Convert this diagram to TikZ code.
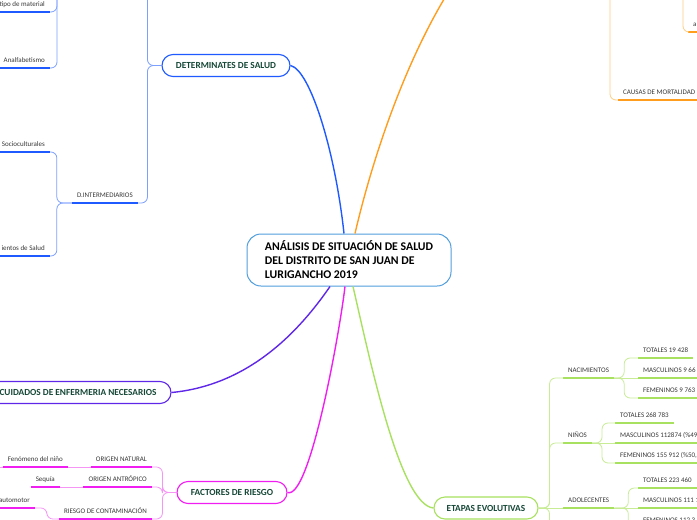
\documentclass[tikz,border=0pt]{standalone}
\usepackage{fontspec}
\setmainfont{Carlito}
\usepackage{tikz}

\definecolor{rootline}{RGB}{80,158,222}
\definecolor{bluebr}{RGB}{30,90,255}
\definecolor{bluelt}{RGB}{125,160,255}
\definecolor{orangebr}{RGB}{255,157,30}
\definecolor{orangelt}{RGB}{255,205,130}
\definecolor{purplebr}{RGB}{95,40,232}
\definecolor{magbr}{RGB}{240,30,240}
\definecolor{maglt}{RGB}{245,150,245}
\definecolor{greenbr}{RGB}{168,225,95}
\definecolor{greenlt}{RGB}{200,236,150}
\definecolor{pilltext}{RGB}{22,72,56}
\definecolor{leaftext}{RGB}{55,55,55}

\begin{document}
\begin{tikzpicture}[x=1pt, y=-1pt,
    rootbox/.style={draw=rootline, fill=white, line width=1pt, rounded corners=14pt,
                    minimum width=204pt, minimum height=52pt, align=left,
                    font=\bfseries\fontsize{11.8}{14}\selectfont},
    pill/.style={draw, fill=white, line width=1.1pt, rounded corners=11pt,
                 minimum height=22pt, text=pilltext,
                 font=\bfseries\fontsize{9.3}{10}\selectfont},
    leaf/.style={inner xsep=5pt, inner ysep=0pt, text height=5pt, text depth=5.5pt,
                 text=leaftext, font=\fontsize{7}{8}\selectfont,
                 append after command={(\tikzlastnode.south west)
                     edge[line width=1.6pt, #1] (\tikzlastnode.south east)}},
    branch/.style={line width=1.4pt},
    twig/.style={line width=0.8pt, rounded corners=6pt},
]

\useasboundingbox (0,0) rectangle (697,520);
\clip (0,0) rectangle (697,520);

\node[rootbox] (root) at (349,260)
    {ANÁLISIS DE SITUACIÓN DE SALUD\\DEL DISTRITO DE SAN JUAN DE\\LURIGANCHO 2019};

\node[pill, draw=bluebr, minimum width=128pt] (dets) at (226,65.5) {DETERMINATES DE SALUD};
\node[pill, draw=purplebr, minimum width=186pt] (cuid) at (78,392.5) {CUIDADOS DE ENFERMERIA NECESARIOS};
\node[pill, draw=magbr, minimum width=110pt] (fact) at (232,492.5) {FACTORES DE RIESGO};
\node[pill, draw=greenbr, minimum width=104pt] (etap) at (486,508) {ETAPAS EVOLUTIVAS};

% off-canvas parents
\coordinate (dest) at (135,-30);
\coordinate (destw) at (71,-25);
\coordinate (ofar) at (470,-40);
\coordinate (causp) at (598,-25);
\coordinate (ap) at (671,-25);
\coordinate (fenc) at (-10,467);
\coordinate (etapd) at (563,560);

\node[leaf=bluebr, anchor=south east] (tipo) at (50,12) {tipo de material};
\node[leaf=bluebr, anchor=south east] (analf) at (50,68) {Analfabetismo};
\node[leaf=bluebr, anchor=south east] (dint) at (138,203) {D.INTERMEDIARIOS};
\node[leaf=bluebr, anchor=south east] (socio) at (50,152) {Socioculturales};
\node[leaf=bluebr, anchor=south east] (estab) at (50,256) {ientos de Salud};

\node[leaf=magbr, anchor=south east] (onat) at (152,467) {ORIGEN NATURAL};
\node[leaf=magbr, anchor=south east] (fen) at (68,467) {Fenómeno del niño};
\node[leaf=magbr, anchor=south east] (oant) at (152,487) {ORIGEN ANTRÓPICO};
\node[leaf=magbr, anchor=south east] (seq) at (60,487) {Sequía};
\node[leaf=magbr, anchor=south east] (rcon) at (152,519) {RIESGO DE CONTAMINACIÓN};
\node[leaf=magbr, anchor=south east] (auto) at (35,508) {automotor};

\node[leaf=greenbr, anchor=south west] (nac) at (563,378) {NACIMIENTOS};
\node[leaf=greenbr, anchor=south west] (ninos) at (563,443) {NIÑOS};
\node[leaf=greenbr, anchor=south west] (adol) at (563,508) {ADOLECENTES};
\node[leaf=greenbr, anchor=south west] (t1) at (638,358) {TOTALES 19 428};
\node[leaf=greenbr, anchor=south west] (m1) at (638,378) {MASCULINOS 9 66};
\node[leaf=greenbr, anchor=south west] (f1) at (638,398) {FEMENINOS 9 763 (};
\node[leaf=greenbr, anchor=south west] (t2) at (615,423) {TOTALES 268 783};
\node[leaf=greenbr, anchor=south west] (m2) at (615,443) {MASCULINOS 112874 (\%49};
\node[leaf=greenbr, anchor=south west] (f2) at (615,463) {FEMENINOS 155 912 (\%50,};
\node[leaf=greenbr, anchor=south west] (t3) at (638,488) {TOTALES 223 460};
\node[leaf=greenbr, anchor=south west] (m3) at (638,508) {MASCULINOS 111 1};
\node[leaf=greenbr, anchor=south west] (f3) at (638,528) {FEMENINOS 112 3};

\node[leaf=orangebr, anchor=south west] (caus) at (618,100) {CAUSAS DE MORTALIDAD};
\node[leaf=orangebr, anchor=south west] (aa) at (688,32) {a};

\draw[branch, bluebr] ([xshift=-5pt]root.north) .. controls (335,150) and (310,70) .. (dets.east);
\draw[branch, orangebr] ([xshift=6pt]root.north) .. controls (372,160) and (410,40) .. (ofar);
\draw[branch, purplebr] ([xshift=-19pt]root.south) .. controls (300,330) and (250,385) .. (cuid.east);
\draw[branch, magbr] ([xshift=-4pt]root.south) .. controls (340,330) and (310,500) .. (fact.east);
\draw[branch, greenbr] ([xshift=4pt]root.south) .. controls (370,360) and (400,505) .. (etap.west);

\draw[twig, bluelt] (dets.west) -- ++(-14,0) |- (dest);
\draw[twig, bluelt] (dets.west) -- ++(-14,0) |- (dint.south east);
\draw[twig, bluelt] (destw) -- ++(-14,0) |- (tipo.south east);
\draw[twig, bluelt] (destw) -- ++(-14,0) |- (analf.south east);
\draw[twig, bluelt] (dint.south west) -- ++(-15,0) |- (socio.south east);
\draw[twig, bluelt] (dint.south west) -- ++(-15,0) |- (estab.south east);

\draw[twig, maglt] (fact.west) -- ++(-14,0) |- (onat.south east);
\draw[twig, maglt] (fact.west) -- ++(-14,0) |- (oant.south east);
\draw[twig, maglt] (fact.west) -- ++(-14,0) |- (rcon.south east);
\draw[twig, maglt] (onat.south west) -- (fen.south east);
\draw[twig, maglt] (oant.south west) -- (seq.south east);
\draw[twig, maglt] (rcon.south west) -- ++(-12,0) |- (auto.south east);
\draw[twig, maglt] (fen.south west) -- (fenc);

\draw[twig, greenlt] (etap.east) -- ++(11,0) |- (nac.south west);
\draw[twig, greenlt] (etap.east) -- ++(11,0) |- (ninos.south west);
\draw[twig, greenlt] (etap.east) -- (adol.south west);
\draw[twig, greenlt] (etap.east) -- ++(11,0) |- (etapd);
\draw[twig, greenlt] (nac.south east) -- ++(10,0) |- (t1.south west);
\draw[twig, greenlt] (nac.south east) -- (m1.south west);
\draw[twig, greenlt] (nac.south east) -- ++(10,0) |- (f1.south west);
\draw[twig, greenlt] (ninos.south east) -- ++(10,0) |- (t2.south west);
\draw[twig, greenlt] (ninos.south east) -- (m2.south west);
\draw[twig, greenlt] (ninos.south east) -- ++(10,0) |- (f2.south west);
\draw[twig, greenlt] (adol.south east) -- ++(14,0) |- (t3.south west);
\draw[twig, greenlt] (adol.south east) -- (m3.south west);
\draw[twig, greenlt] (adol.south east) -- ++(14,0) |- (f3.south west);

\draw[twig, orangelt] (causp) -- ++(12,0) |- (caus.south west);
\draw[twig, orangelt] (ap) -- ++(12,0) |- (aa.south west);

\end{tikzpicture}
\end{document}
